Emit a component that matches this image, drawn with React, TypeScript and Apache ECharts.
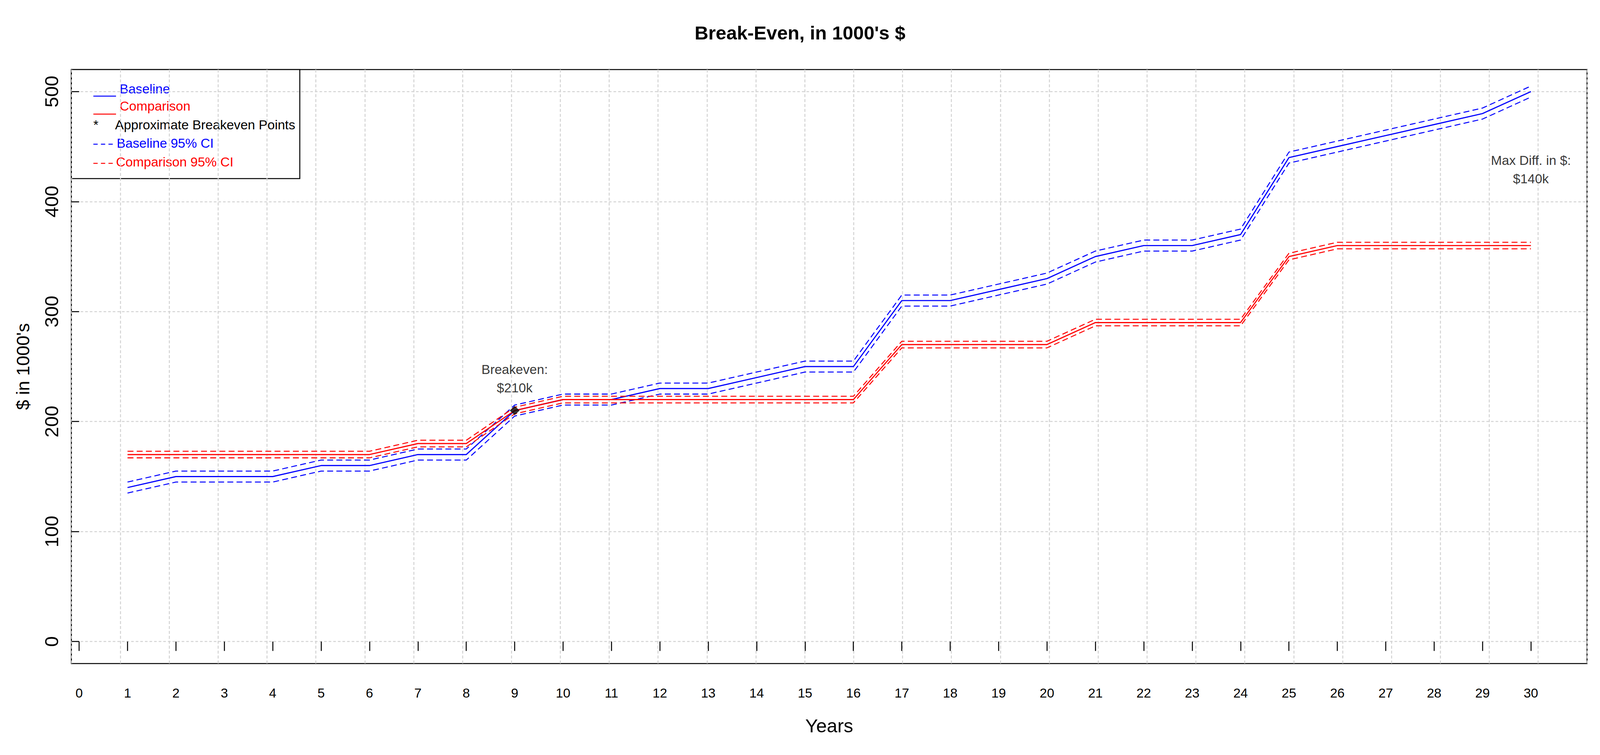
import React, { useEffect, useRef } from "react";
import * as echarts from "echarts";

const years = [1, 2, 3, 4, 5, 6, 7, 8, 9, 10, 11, 12, 13, 14, 15, 16, 17, 18, 19, 20, 21, 22, 23, 24, 25, 26, 27, 28, 29, 30];
const baseline = [140, 150, 150, 150, 160, 160, 170, 170, 210, 220, 220, 230, 230, 240, 250, 250, 310, 310, 320, 330, 350, 360, 360, 370, 440, 450, 460, 470, 480, 500];
const baselineUpper = [145, 155, 155, 155, 165, 165, 175, 175, 215, 225, 225, 235, 235, 245, 255, 255, 315, 315, 325, 335, 355, 365, 365, 375, 445, 455, 465, 475, 485, 505];
const baselineLower = [135, 145, 145, 145, 155, 155, 165, 165, 205, 215, 215, 225, 225, 235, 245, 245, 305, 305, 315, 325, 345, 355, 355, 365, 435, 445, 455, 465, 475, 495];
const comparison = [170, 170, 170, 170, 170, 170, 180, 180, 210, 220, 220, 220, 220, 220, 220, 220, 270, 270, 270, 270, 290, 290, 290, 290, 350, 360, 360, 360, 360, 360];
const comparisonUpper = [173, 173, 173, 173, 173, 173, 183, 183, 213, 223, 223, 223, 223, 223, 223, 223, 273, 273, 273, 273, 293, 293, 293, 293, 353, 363, 363, 363, 363, 363];
const comparisonLower = [167, 167, 167, 167, 167, 167, 177, 177, 207, 217, 217, 217, 217, 217, 217, 217, 267, 267, 267, 267, 287, 287, 287, 287, 347, 357, 357, 357, 357, 357];
const breakevenPoints = [[9, 210]];
const annotations = [
  [9, 239, "Breakeven:\n$210k"],
  [30, 429, "Max Diff. in $:\n$140k"],
];
const xTickValues = [0, 1, 2, 3, 4, 5, 6, 7, 8, 9, 10, 11, 12, 13, 14, 15, 16, 17, 18, 19, 20, 21, 22, 23, 24, 25, 26, 27, 28, 29, 30];
const yTickValues = [0, 100, 200, 300, 400, 500];
const legendItems = ["Baseline", "Comparison", "Approximate Breakeven Points", "Baseline 95% CI", "Comparison 95% CI"];

const FONT = "Liberation Sans";
const BLUE = "#0000FF";
const RED = "#FF0000";
const GRID = "#D3D3D3";
const REF_W = 5804;
const REF_H = 1932;

function pairs(ys: number[]) {
  return years.map((x, i) => [x, ys[i]]);
}

export default function App() {
  const ref = useRef<HTMLDivElement>(null);
  useEffect(() => {
    document.body.style.margin = "0";
    document.body.style.overflow = "hidden";
    const el = ref.current!;
    const W = el.clientWidth || REF_W;
    const H = el.clientHeight || REF_H;
    const sx = W / REF_W;
    const sy = H / REF_H;
    const f = Math.sqrt(sx * sy);
    const X = (v: number) => v * sx;
    const Y = (v: number) => v * sy;
    const F = (v: number) => v * f;

    const chart = echarts.init(el, null, { renderer: "svg" });
    const solid = (name: string, data: number[], color: string, z: number) => ({
      name, type: "line", data: pairs(data), symbol: "none", z,
      lineStyle: { color, width: F(3.5), type: "solid" }, silent: true,
    });
    const dashed = (name: string, data: number[], color: string, z: number) => ({
      name, type: "line", data: pairs(data), symbol: "none", z,
      lineStyle: { color, width: F(3), type: [F(18), F(10)] }, silent: true,
    });

    const legFont = `${F(40)}px "${FONT}"`;
    const legW = F(696);
    const legH = Y(279);
    const txt = (s: string, x: number, y: number, fill: string) => ({
      type: "text", x: F(x), y: Y(y),
      style: { text: s, fill, font: legFont, verticalAlign: "middle", align: "left" },
    });

    chart.setOption({
      animation: false,
      backgroundColor: "#ffffff",
      title: {
        text: "Break-Even, in 1000's $",
        left: "center",
        top: Y(83) - F(34),
        textStyle: { fontFamily: FONT, fontSize: F(58), fontWeight: "bold", color: "#000" },
      },
      grid: {
        left: X(259), top: Y(178), width: X(5498), height: Y(1520),
        show: true, borderColor: "#000", borderWidth: F(3), backgroundColor: "transparent",
        containLabel: false,
      },
      xAxis: [
        {
          type: "value", min: -0.16, max: 31.16, position: "bottom",
          name: "Years", nameLocation: "middle", nameGap: Y(159) - F(29),
          nameTextStyle: { fontFamily: FONT, fontSize: F(58), color: "#000" },
          axisLine: { show: false },
          axisTick: { show: true, length: Y(24), lineStyle: { color: "#000", width: F(3) }, customValues: xTickValues },
          axisLabel: { show: true, fontFamily: FONT, fontSize: F(40), color: "#000", margin: Y(72) - F(16), customValues: xTickValues },
          splitLine: { show: false },
        },
        {
          type: "value", min: 0, max: 31, interval: 1, position: "bottom",
          axisLine: { show: false }, axisTick: { show: false }, axisLabel: { show: false },
          splitLine: { show: true, lineStyle: { color: GRID, width: F(3), type: [F(9), F(6)] } },
        },
      ],
      yAxis: {
        type: "value", min: -20, max: 520,
        name: "$ in 1000's", nameLocation: "middle", nameGap: X(173) - F(25.5),
        nameTextStyle: { fontFamily: FONT, fontSize: F(55), color: "#000" },
        axisLine: { show: false },
        axisTick: { show: true, length: X(27), lineStyle: { color: "#000", width: F(3) }, customValues: yTickValues },
        axisLabel: { show: true, fontFamily: FONT, fontSize: F(58), color: "#000", rotate: 90, margin: X(77) - F(33), customValues: yTickValues },
        splitLine: { show: true, lineStyle: { color: GRID, width: F(3), type: [F(8), F(6)] } },
      },
      series: [
        solid("Baseline", baseline, BLUE, 3),
        dashed("Baseline 95% CI upper", baselineUpper, BLUE, 3),
        dashed("Baseline 95% CI lower", baselineLower, BLUE, 3),
        solid("Comparison", comparison, RED, 4),
        dashed("Comparison 95% CI upper", comparisonUpper, RED, 4),
        dashed("Comparison 95% CI lower", comparisonLower, RED, 4),
        {
          name: "Approximate Breakeven Points", type: "scatter", data: breakevenPoints,
          symbol: "diamond", symbolSize: [F(30), F(28)], itemStyle: { color: "#000" }, z: 6, silent: true,
        },
        {
          name: "Annotations", type: "scatter", data: annotations, symbolSize: 1,
          itemStyle: { color: "rgba(0,0,0,0)" }, z: 7, silent: true,
          label: {
            show: true, position: "inside", formatter: (p: any) => p.data[2],
            fontFamily: FONT, fontSize: F(40), lineHeight: Y(47), color: "#000", align: "center",
          },
        },
      ],
      graphic: [
        {
          type: "group", x: X(259), y: Y(178), z: 100,
          children: [
            { type: "rect", shape: { x: 0, y: 0, width: legW, height: legH }, style: { fill: "#fff", stroke: "#000", lineWidth: F(3) } },
            { type: "line", shape: { x1: F(67), y1: Y(68), x2: F(136), y2: Y(68) }, style: { stroke: BLUE, lineWidth: F(3) } },
            txt(legendItems[0], 147, 49, BLUE),
            { type: "line", shape: { x1: F(67), y1: Y(114), x2: F(136), y2: Y(114) }, style: { stroke: RED, lineWidth: F(3) } },
            txt(legendItems[1], 147, 93, RED),
            txt("*", 67, 141, "#000"),
            txt(legendItems[2], 133, 141, "#000"),
            { type: "line", shape: { x1: F(67), y1: Y(191), x2: F(127), y2: Y(191) }, style: { stroke: BLUE, lineWidth: F(3), lineDash: [F(13), F(10)] } },
            txt(legendItems[3], 138, 188, BLUE),
            { type: "line", shape: { x1: F(67), y1: Y(240), x2: F(127), y2: Y(240) }, style: { stroke: RED, lineWidth: F(3), lineDash: [F(13), F(10)] } },
            txt(legendItems[4], 136, 236, RED),
          ],
        },
      ],
    });
    return () => chart.dispose();
  }, []);
  return <div ref={ref} style={{ width: "100vw", height: "100vh" }} />;
}
